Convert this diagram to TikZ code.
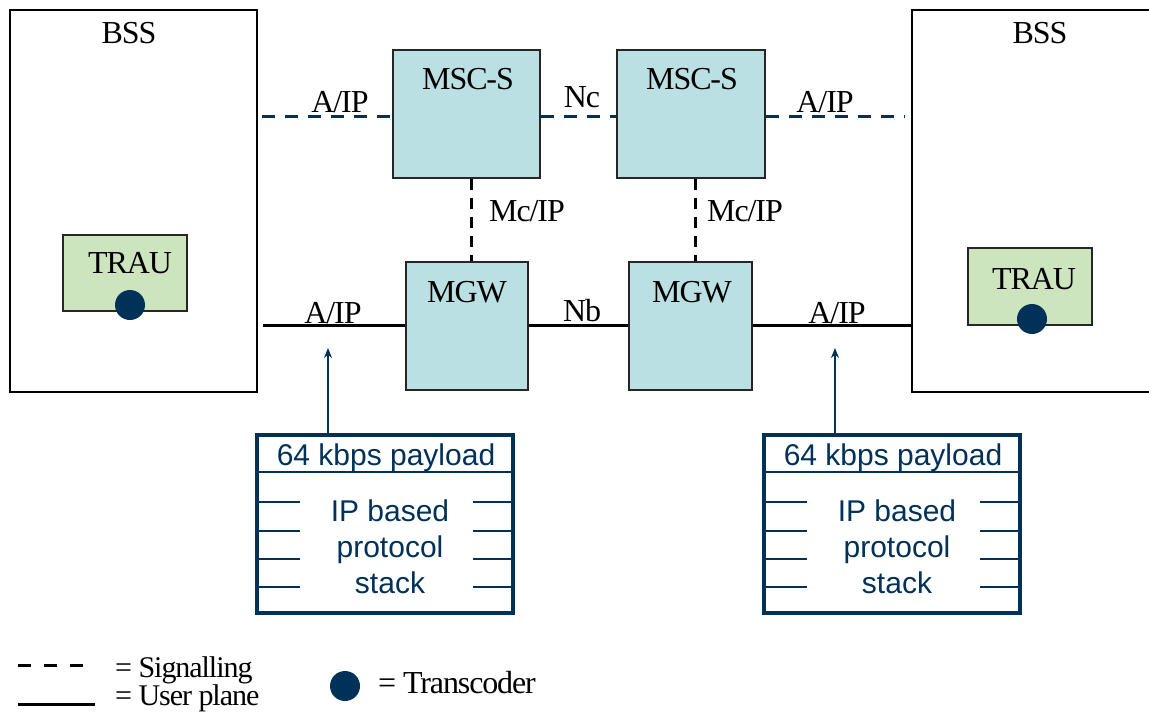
\documentclass[tikz,border=0pt]{standalone}
\usepackage{fontspec}
\setmainfont[LetterSpace=-3.5]{Liberation Serif}
\newfontfamily\arialf{Liberation Sans}
\usetikzlibrary{arrows.meta}
\definecolor{navy}{HTML}{003158}
\definecolor{tealfill}{HTML}{BAE0E3}
\definecolor{greenfill}{HTML}{CCE5BE}
\tikzset{
  bssbox/.style={draw=black, line width=1.6pt, fill=white, inner sep=0pt},
  netbox/.style={draw=black!85, line width=1.6pt, fill=tealfill, inner sep=0pt},
  traubox/.style={draw=black!85, line width=1.6pt, fill=greenfill, inner sep=0pt},
  dot/.style={circle, fill=navy, minimum size=30pt, inner sep=0pt},
  lbl/.style={anchor=base, inner sep=0pt, font=\fontsize{32}{32}\selectfont},
  sig/.style={draw=navy, line width=3pt, dash pattern=on 13pt off 10pt},
  sigv/.style={draw=black, line width=3pt, dash pattern=on 11pt off 8pt},
  user/.style={draw=black, line width=3pt},
  stackbox/.style={draw=navy, line width=4pt, inner sep=0pt, minimum width=256pt, minimum height=178pt},
  stackline/.style={draw=navy, line width=1.6pt},
  stacktxt/.style={inner sep=0pt, text=navy, font=\arialf\fontsize{30}{36}\selectfont, align=center, anchor=base},
  upar/.style={draw=navy, line width=2pt, -{Stealth[length=10pt,width=8pt]}},
}
\begin{document}
\begin{tikzpicture}[x=1pt,y=-1pt]
\useasboundingbox (0,0) rectangle (1149,717);
% BSS boxes
\node[bssbox, minimum width=247pt, minimum height=382pt] (bssL) at (133.5,201) {};
\node[bssbox, minimum width=256pt, minimum height=382pt] (bssR) at (1040,201) {};
\node[lbl] (bssLt) at (129,44) {BSS};
\node[lbl] (bssRt) at (1040,44) {BSS};
% TRAU
\node[traubox, minimum width=124pt, minimum height=76pt] (trauL) at (125,273) {};
\node[traubox, minimum width=124pt, minimum height=77pt] (trauR) at (1030,286.5) {};
\node[lbl] (trauLt) at (130,273) {TRAU};
\node[lbl] (trauRt) at (1034,289) {TRAU};
\node[dot] (dotL) at (130,305) {};
\node[dot] (dotR) at (1032,319) {};
% MSC-S
\node[netbox, minimum width=147pt, minimum height=128pt] (mscL) at (466.5,114) {};
\node[netbox, minimum width=148pt, minimum height=128pt] (mscR) at (691,114) {};
\node[lbl] (mscLt) at (468,89) {MSC-S};
\node[lbl] (mscRt) at (692,89) {MSC-S};
% MGW
\node[netbox, minimum width=122pt, minimum height=128pt] (mgwL) at (467,326) {};
\node[netbox, minimum width=123pt, minimum height=128pt] (mgwR) at (690.5,326) {};
\node[lbl] (mgwLt) at (467,302) {MGW};
\node[lbl] (mgwRt) at (692,302) {MGW};
% signalling lines
\coordinate (sL) at (262,116);
\coordinate (sR) at (905,116);
\draw[sig] (sL) -- (sL -| mscL.west);
\draw[sig] (mscL.east |- sL) -- (mscR.west |- sL);
\draw[sig] (mscR.east |- sR) -- (sR);
\node[lbl] (aipTL) at (340,112) {A/IP};
\node[lbl] (nc) at (582,107) {Nc};
\node[lbl] (aipTR) at (825,112) {A/IP};
% Mc/IP
\draw[sigv] ([xshift=5pt]mscL.south) -- ([xshift=5pt]mscL.south |- mgwL.north);
\draw[sigv] ([xshift=4pt]mscR.south) -- ([xshift=4pt]mscR.south |- mgwR.north);
\node[lbl] (mcL) at (527,221) {Mc/IP};
\node[lbl] (mcR) at (745,221) {Mc/IP};
% user plane
\coordinate (uL) at (263,325);
\draw[user] (uL) -- (uL -| mgwL.west);
\draw[user] (mgwL.east |- uL) -- (mgwR.west |- uL);
\draw[user] (mgwR.east |- uL) -- (bssR.west |- uL);
\node[lbl] (aipBL) at (333,323) {A/IP};
\node[lbl] (nb) at (582,321) {Nb};
\node[lbl] (aipBR) at (837,323) {A/IP};
% protocol stacks
\foreach \n/\cx/\ax in {L/385/328, R/892/835}{
  \node[stackbox] (stack\n) at (\cx,524) {};
  \draw[navy, line width=2pt] ([xshift=2pt]stack\n.north west |- 0,472) -- ([xshift=-2pt]stack\n.north east |- 0,472);
  \node[stacktxt] (hdr\n) at (\cx+1,465) {64 kbps payload};
  \node[stacktxt] (txt\n) at (\cx+5,593) {IP based\\protocol\\stack};
  \foreach \yy in {502,531,559,587}{
    \draw[stackline] ([xshift=1pt]stack\n.west |- 0,\yy) -- ([xshift=45pt]stack\n.west |- 0,\yy);
    \draw[stackline] ([xshift=-42pt]stack\n.east |- 0,\yy) -- ([xshift=-1pt]stack\n.east |- 0,\yy);
  }
  \coordinate (arr\n) at (\ax,348);
  \draw[upar] (arr\n |- stack\n.north) -- (arr\n);
}
% legend
\coordinate (lg1a) at (18,665); \coordinate (lg1b) at (83,665);
\coordinate (lg2a) at (18,704); \coordinate (lg2b) at (95,704);
\draw[draw=black, line width=3pt, dash pattern=on 13pt off 13pt] (lg1a) -- (lg1b);
\draw[user] (lg2a) -- (lg2b);
\node[lbl, anchor=base west, font=\fontsize{30}{30}\selectfont] (lgSig) at (115,677) {= Signalling};
\node[lbl, anchor=base west, font=\fontsize{30}{30}\selectfont] (lgUser) at (115,705) {= User plane};
\node[dot] (lgDot) at (345,686) {};
\node[lbl, anchor=base west] (lgTrans) at (378,693) {= Transcoder};
\end{tikzpicture}
\end{document}
